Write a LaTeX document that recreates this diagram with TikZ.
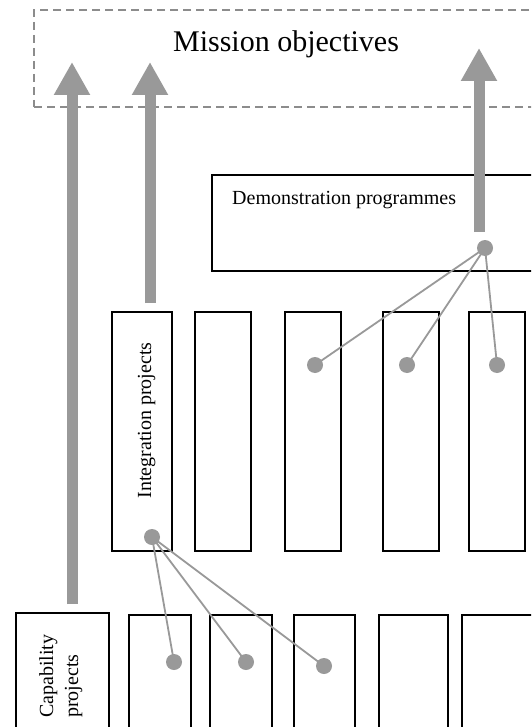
\documentclass[tikz,border=0pt]{standalone}
\usepackage{fontspec}
\setmainfont{Liberation Serif}
\usetikzlibrary{arrows.meta}
\definecolor{arrowgrey}{HTML}{999999}
\definecolor{dashgrey}{HTML}{8C8C8C}
\begin{document}
\begin{tikzpicture}[x=1pt,y=-1pt,
  box/.style={draw=black, line width=1.5pt, inner sep=0pt, rectangle},
  dot/.style={circle, fill=arrowgrey, inner sep=0pt, minimum size=16pt},
  link/.style={draw=arrowgrey, line width=1.8pt},
  bigarrow/.style={draw=arrowgrey, line width=11pt, -{Triangle[width=34pt,length=33pt]}},
  lbl/.style={font=\fontsize{20}{24}\selectfont, inner sep=0pt},
]
\clip (0,0) rectangle (531,727);
\fill[white] (0,0) rectangle (531,727);
% mission objectives
\node[draw=dashgrey, dash pattern=on 8pt off 5pt, line width=1.5pt, minimum width=511pt, minimum height=97pt, inner sep=0pt] (mo) at (289.5,58.5) {};
\node[font=\fontsize{30}{36}\selectfont, anchor=base, inner sep=0pt] (motext) at (286,51.5) {Mission objectives};
% demonstration
\node[box, minimum width=333pt, minimum height=96pt] (demo) at (378.5,223) {};
\node[lbl, anchor=base west] (demotext) at (232,205) {Demonstration programmes};
% integration row
\node[box, minimum width=60pt, minimum height=239pt] (i1) at (142,431.5) {};
\node[box, minimum width=56pt, minimum height=239pt] (i2) at (223,431.5) {};
\node[box, minimum width=56pt, minimum height=239pt] (i3) at (313,431.5) {};
\node[box, minimum width=56pt, minimum height=239pt] (i4) at (411,431.5) {};
\node[box, minimum width=56pt, minimum height=239pt] (i5) at (497,431.5) {};
\node[lbl, rotate=90, anchor=base] (itext) at (151,420.5) {Integration projects};
% capability row
\node[box, minimum width=93pt, minimum height=127pt] (c0) at (62.5,676.5) {};
\node[box, minimum width=62pt, minimum height=125pt] (b1) at (160,677.5) {};
\node[box, minimum width=62pt, minimum height=125pt] (b2) at (241,677.5) {};
\node[box, minimum width=61pt, minimum height=125pt] (b3) at (324.5,677.5) {};
\node[box, minimum width=69pt, minimum height=125pt] (b4) at (413.5,677.5) {};
\node[box, minimum width=78pt, minimum height=125pt] (b5) at (501,677.5) {};
\node[lbl, rotate=90, anchor=base west] (ctext1) at (53,718) {Capability};
\node[lbl, rotate=90, anchor=base west] (ctext2) at (78,718) {projects};
% big arrows
\coordinate (a1s) at (72,604);
\coordinate (a1e) at (72,62);
\coordinate (a2s) at (150,303);
\coordinate (a2e) at (150,62);
\coordinate (a3s) at (479,232);
\coordinate (a3e) at (479,48);
\draw[bigarrow] (a1s) -- (a1e);
\draw[bigarrow] (a2s) -- (a2e);
\draw[bigarrow] (a3s) -- (a3e);
% dots
\node[dot] (dd) at (485,248) {};
\node[dot] (d3) at (315,365) {};
\node[dot] (d4) at (407,365) {};
\node[dot] (d5) at (497,365) {};
\node[dot] (di) at (152,537) {};
\node[dot] (e1) at (174,662) {};
\node[dot] (e2) at (246,662) {};
\node[dot] (e3) at (324,666) {};
% links
\draw[link] (dd.center) -- (d3.center);
\draw[link] (dd.center) -- (d4.center);
\draw[link] (dd.center) -- (d5.center);
\draw[link] (di.center) -- (e1.center);
\draw[link] (di.center) -- (e2.center);
\draw[link] (di.center) -- (e3.center);
\end{tikzpicture}
\end{document}
